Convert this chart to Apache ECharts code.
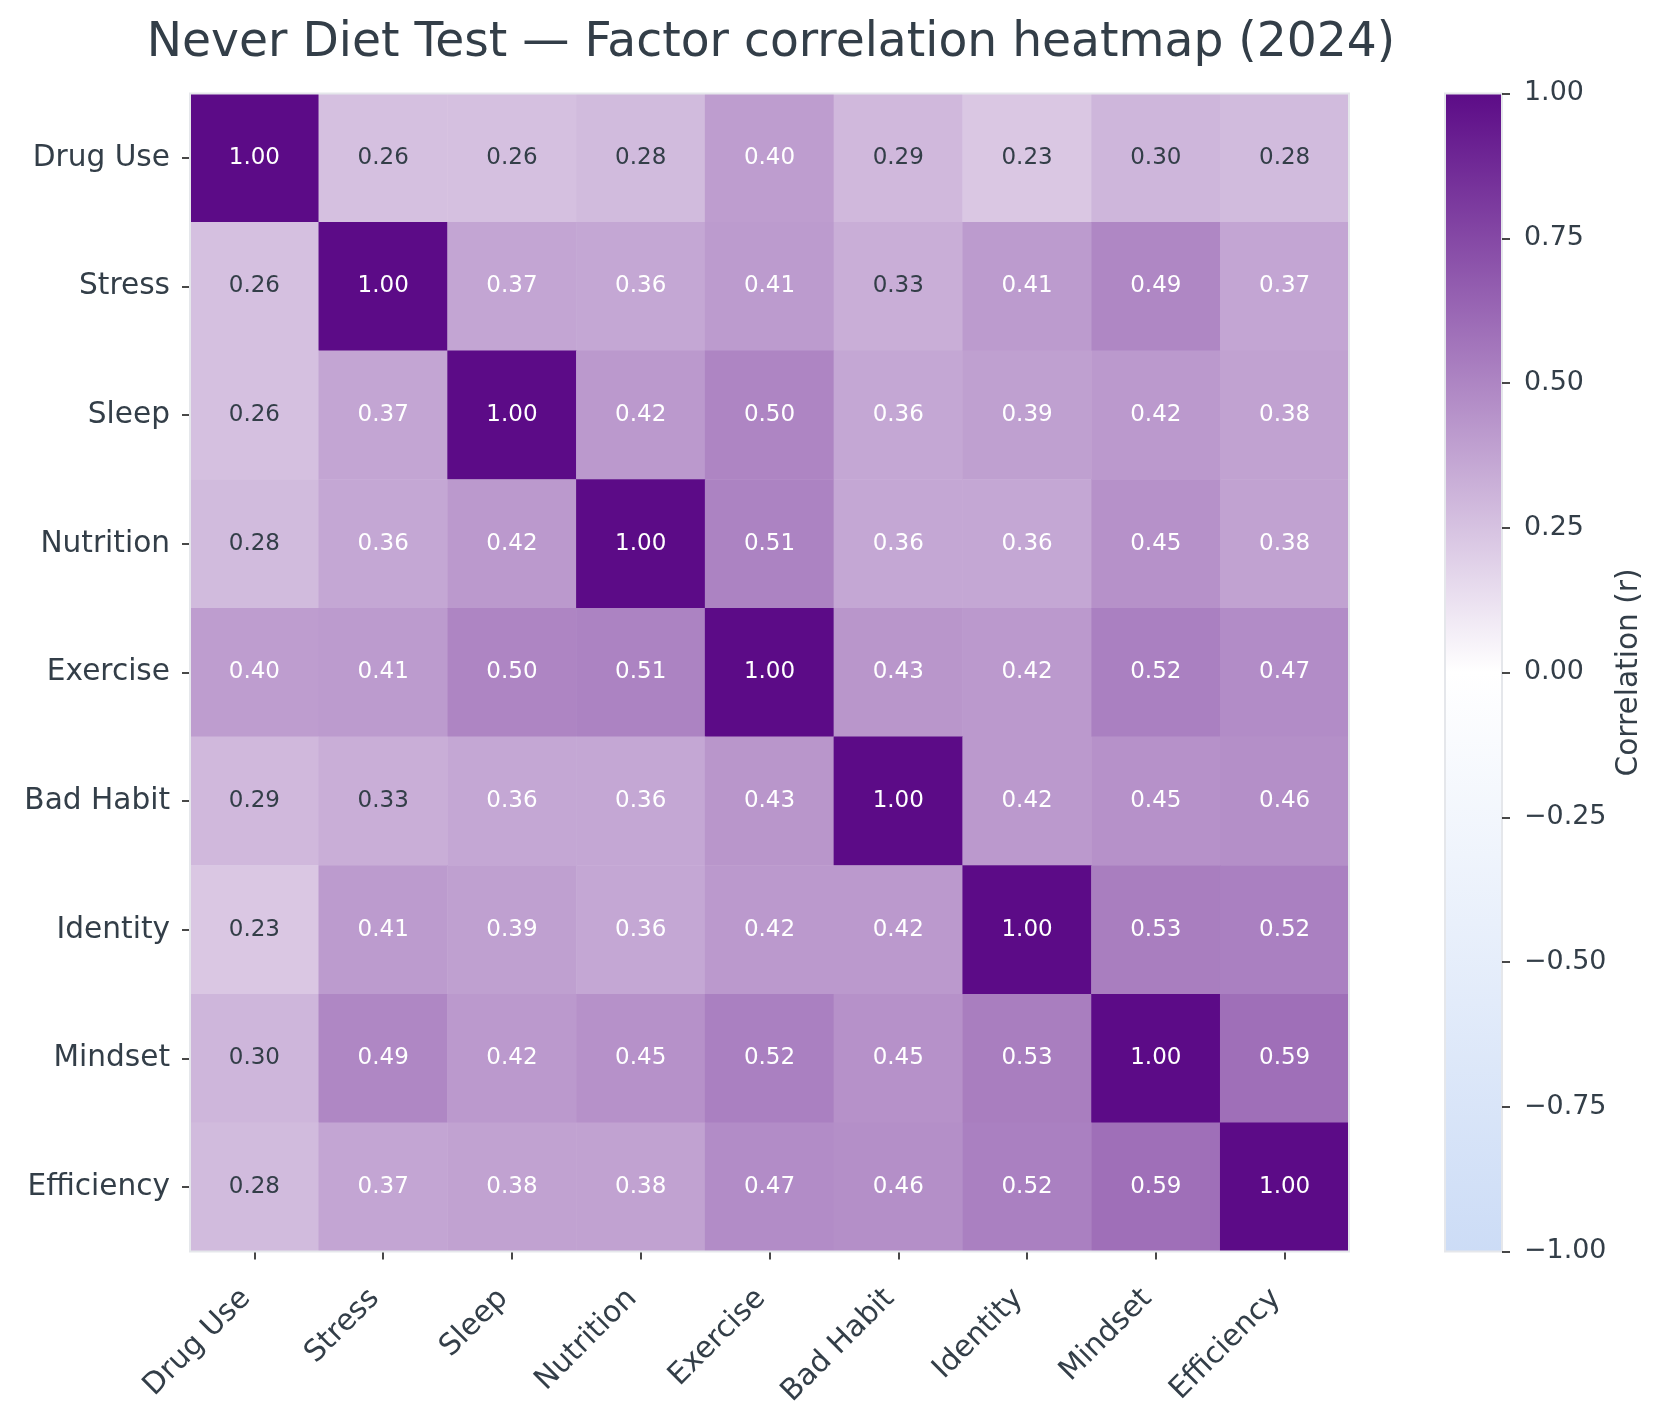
<!DOCTYPE html>
<html>
<head>
<meta charset="utf-8">
<script src="https://cdn.jsdelivr.net/npm/echarts@6/dist/echarts.min.js"></script>
<style>
html,body{margin:0;padding:0;background:#fff;}
#chart{width:1668px;height:1419px;}
</style>
</head>
<body>
<div id="chart"></div>
<script>
const factors = ["Drug Use","Stress","Sleep","Nutrition","Exercise","Bad Habit","Identity","Mindset","Efficiency"];
const rowDrugUse   = [1.00,0.26,0.26,0.28,0.40,0.29,0.23,0.30,0.28];
const rowStress    = [0.26,1.00,0.37,0.36,0.41,0.33,0.41,0.49,0.37];
const rowSleep     = [0.26,0.37,1.00,0.42,0.50,0.36,0.39,0.42,0.38];
const rowNutrition = [0.28,0.36,0.42,1.00,0.51,0.36,0.36,0.45,0.38];
const rowExercise  = [0.40,0.41,0.50,0.51,1.00,0.43,0.42,0.52,0.47];
const rowBadHabit  = [0.29,0.33,0.36,0.36,0.43,1.00,0.42,0.45,0.46];
const rowIdentity  = [0.23,0.41,0.39,0.36,0.42,0.42,1.00,0.53,0.52];
const rowMindset   = [0.30,0.49,0.42,0.45,0.52,0.45,0.53,1.00,0.59];
const rowEfficiency= [0.28,0.37,0.38,0.38,0.47,0.46,0.52,0.59,1.00];
const colorbarTicks = [-1,-0.75,-0.5,-0.25,0,0.25,0.5,0.75,1];
const scaleColors = ['#ccdcf6','#ffffff','#5c0b87'];

const matrix = [rowDrugUse,rowStress,rowSleep,rowNutrition,rowExercise,rowBadHabit,rowIdentity,rowMindset,rowEfficiency];
const TEXT = '#333e48';
const data = [];
matrix.forEach((row, yi) => row.forEach((v, xi) => {
  data.push({value:[xi, yi, v], label:{color: Math.abs(v) < 0.35 ? TEXT : '#ffffff'}});
}));

const FONT = '"DejaVu Sans", sans-serif';
const fmt = v => (v < 0 ? '\u2212' + Math.abs(v).toFixed(2) : v.toFixed(2));

const barGradient = new echarts.graphic.LinearGradient(0, 1, 0, 0,
  scaleColors.map((c, i) => ({offset: i / (scaleColors.length - 1), color: c})));

const chart = echarts.init(document.getElementById('chart'), null, {renderer:'canvas'});
chart.setOption({
  backgroundColor:'#ffffff',
  animation:false,
  title:{
    text:'Never Diet Test \u2014 Factor correlation heatmap (2024)',
    left:766, top:15, textAlign:'center',
    textStyle:{fontFamily:FONT, fontSize:47.2, fontWeight:'normal', color:TEXT}
  },
  grid:[
    {left:190, top:93.5, width:1159, height:1158, show:true, z:10, backgroundColor:'transparent', borderColor:'#e5e7eb', borderWidth:2},
    {left:1445, top:93.5, width:57, height:1158, show:true, backgroundColor:barGradient, borderColor:'#e5e7eb', borderWidth:2}
  ],
  xAxis:[
    {type:'category', gridIndex:0, data:factors, axisLine:{show:false},
     axisTick:{show:true, alignWithLabel:true, length:8, lineStyle:{color:'#1a1a1a', width:1.6}},
     axisLabel:{rotate:45, margin:34, padding:[0,12,0,0], fontFamily:FONT, fontSize:29.6, color:TEXT},
     splitLine:{show:false}},
    {type:'category', gridIndex:1, show:false, data:['bar']}
  ],
  yAxis:[
    {type:'category', gridIndex:0, data:factors, inverse:true, axisLine:{show:false},
     axisTick:{show:true, alignWithLabel:true, length:8, lineStyle:{color:'#1a1a1a', width:1.6}},
     axisLabel:{margin:20, fontFamily:FONT, fontSize:29.6, color:TEXT},
     splitLine:{show:false}},
    {type:'value', gridIndex:1, position:'right', min:-1, max:1, interval:0.25,
     axisLine:{show:false, onZero:false}, splitLine:{show:false},
     axisTick:{show:true, inside:false, length:8, lineStyle:{color:'#1a1a1a', width:1.6}},
     axisLabel:{margin:22, fontFamily:FONT, fontSize:26.9, color:TEXT, formatter:fmt},
     name:'Correlation (r)', nameLocation:'middle', nameRotate:90, nameGap:112,
     nameTextStyle:{fontFamily:FONT, fontSize:29.6, color:TEXT}}
  ],
  visualMap:{
    type:'continuous', min:-1, max:1, seriesIndex:0, show:false,
    inRange:{color:scaleColors}
  },
  series:[{
    type:'heatmap', xAxisIndex:0, yAxisIndex:0, data:data,
    label:{show:true, fontFamily:FONT, fontSize:23, formatter:p => p.value[2].toFixed(2)},
    itemStyle:{borderWidth:0},
    emphasis:{disabled:true}
  }]
});
</script>
</body>
</html>
